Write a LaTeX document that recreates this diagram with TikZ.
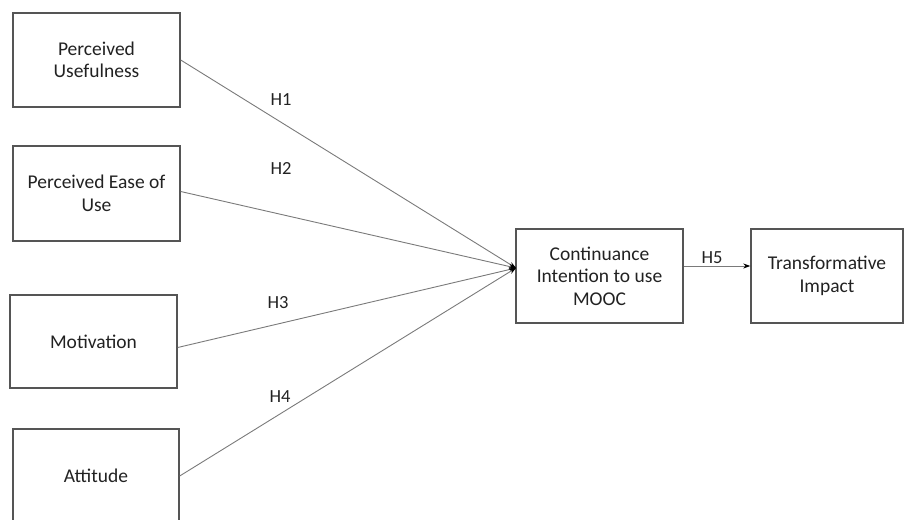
\documentclass[tikz,border=0pt]{standalone}
\usepackage{fontspec}
\setmainfont{Carlito}
\usetikzlibrary{arrows.meta}
\definecolor{boxline}{HTML}{555555}
\definecolor{linkline}{HTML}{7A7A7A}
\definecolor{txt}{HTML}{222222}
\begin{document}
\begin{tikzpicture}[x=1pt,y=-1pt,
  construct/.style={draw=boxline,line width=1.4pt,fill=white,align=center,
    text=txt,inner sep=2pt,font=\fontsize{19.5}{22.5}\selectfont},
  link/.style={draw=linkline,line width=0.9pt,
    -{Stealth[length=7pt,width=5pt,color=black]}},
  hyp/.style={text=txt,font=\fontsize{18.5}{21}\selectfont}]
\useasboundingbox (0,0) rectangle (904,519);
\begin{scope}
\clip (0,0) rectangle (904,519);
\node[construct,minimum width=167pt,minimum height=94pt] (pu) at (96.5,60) {Perceived\\Usefulness};
\node[construct,minimum width=167pt,minimum height=95pt] (peou) at (96.5,193.5) {Perceived Ease of\\Use};
\node[construct,minimum width=167pt,minimum height=93pt] (mot) at (93.5,341.5) {Motivation};
\node[construct,minimum width=166pt,minimum height=94pt] (att) at (96,476) {Attitude};
\node[construct,minimum width=167pt,minimum height=94pt] (ci) at (599.5,276) {Continuance\\Intention to use\\MOOC};
\node[construct,minimum width=152pt,minimum height=94pt] (ti) at (827,276) {Transformative\\Impact};
\coordinate (hub) at (516,268);
\draw[link] (pu.east) -- (hub);
\draw[link] ([yshift=2pt]peou.east) -- (hub);
\draw[link] ([yshift=-6pt]mot.east) -- (hub);
\draw[link] (att.east) -- (hub);
\draw[link] ([yshift=10pt]ci.east) -- ([yshift=10pt]ti.west);
\node[hyp] (h1) at (281,100) {H1};
\node[hyp] (h2) at (281,168) {H2};
\node[hyp] (h3) at (278,303) {H3};
\node[hyp] (h4) at (280,397) {H4};
\node[hyp] (h5) at (712,258) {H5};
\end{scope}
\end{tikzpicture}
\end{document}
